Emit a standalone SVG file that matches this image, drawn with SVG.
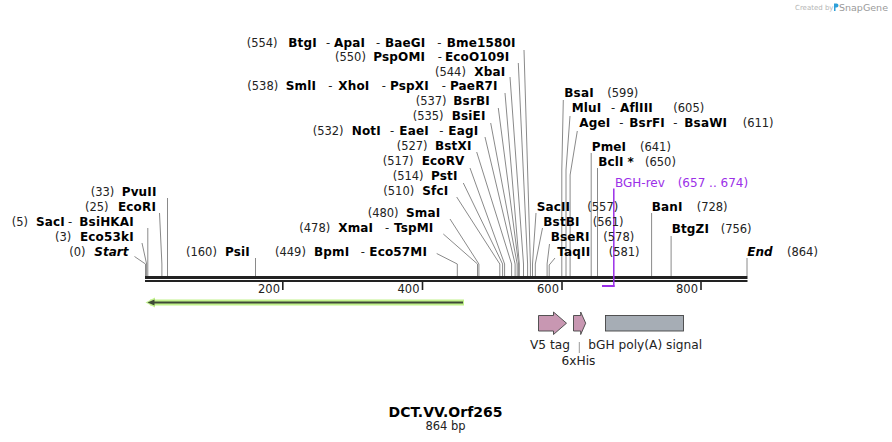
<svg xmlns="http://www.w3.org/2000/svg" width="892" height="442" viewBox="0 0 892 442">
<style>
text{font-family:"DejaVu Sans","Verdana",sans-serif;font-size:11.5px;fill:#111}
.b{font-weight:bold;fill:#000;font-size:12px;letter-spacing:0.15px}
.i{font-weight:bold;font-style:italic;fill:#000;font-size:12px}
.p{font-weight:normal;fill:#222;font-size:11.5px;letter-spacing:0}
.pr{fill:#9b30e8;font-size:12px}
.l{stroke:#8a8a8a;stroke-width:1;fill:none}
.tk{font-size:11.5px;fill:#222;text-anchor:end}
.ft{font-size:12.2px;fill:#222}
</style>
<rect width="892" height="442" fill="#fff"/>

<g id="logo">
<text x="795" y="9.5" style="font-size:7px;fill:#b5b5b5">Created by</text>
<path d="M834,3.5 h2.5 q2,0 2,2 q0,2 -2,2 h-1 v3.5 h-1.5z" fill="#2d9fd8"/>
<text x="839" y="10.5" style="font-size:9.5px;fill:#9a9a9a">SnapGene</text>
</g>

<!-- connectors -->
<g id="connectors">
<polyline class="l" points="134.5,256.5 145.5,264 145.5,276"/>
<polyline class="l" points="142,243 146.6,264 146.6,276"/>
<polyline class="l" points="147.8,228 147.8,276"/>
<polyline class="l" points="159.5,213 161.9,264 161.9,276"/>
<polyline class="l" points="167.5,198 167.5,276"/>
<polyline class="l" points="255.5,258 255.5,276"/>
<polyline class="l" points="436.7,253.5 457.3,264 457.3,276"/>
<polyline class="l" points="443.3,234 477.5,264 477.5,276"/>
<polyline class="l" points="450,219 478.9,264 478.9,276"/>
<polyline class="l" points="456.7,197 499.8,264 499.8,276"/>
<polyline class="l" points="463.3,183 502.6,264 502.6,276"/>
<polyline class="l" points="470,168 504.6,264 504.6,276"/>
<polyline class="l" points="476.7,152 511.6,264 511.6,276"/>
<polyline class="l" points="485,137 515.1,264 515.1,276"/>
<polyline class="l" points="490.7,123 517.2,264 517.2,276"/>
<polyline class="l" points="498.3,108 518.6,264 518.6,276"/>
<polyline class="l" points="505,93 519.3,264 519.3,276"/>
<polyline class="l" points="510,77 523.5,264 523.5,276"/>
<polyline class="l" points="518.3,63 527.6,264 527.6,276"/>
<polyline class="l" points="524,50 530.4,264 530.4,276"/>
<polyline class="l" points="536,213 532.5,264 532.5,276"/>
<polyline class="l" points="542.5,228 535.3,264 535.3,276"/>
<polyline class="l" points="549.5,244 547.1,264 547.1,276"/>
<polyline class="l" points="555,258 549.2,265 549.2,276"/>
<polyline class="l" points="563.3,100 561.8,170 561.8,276"/>
<polyline class="l" points="570,116 566,170 566,276"/>
<polyline class="l" points="577.3,131 570.1,175 570.1,276"/>
<polyline class="l" points="591.2,153 591.2,276"/>
<polyline class="l" points="597.5,168 597.5,276"/>
<polyline class="l" points="651.6,213 651.6,276"/>
<polyline class="l" points="671.1,236 671.1,276"/>
<polyline class="l" points="747,258 747,276"/>
</g>

<!-- backbone -->
<g id="backbone">
<rect x="145" y="276" width="602.5" height="3" fill="#222"/>
<rect x="145" y="280" width="602.5" height="2" fill="#222"/>
<g fill="#222">
<rect x="282" y="282" width="1.6" height="8"/>
<rect x="421.7" y="282" width="1.6" height="8"/>
<rect x="561.2" y="282" width="1.6" height="8"/>
<rect x="700.2" y="282" width="1.6" height="8"/>
</g>
<text class="tk" x="280" y="292.5">200</text>
<text class="tk" x="419.5" y="292.5">400</text>
<text class="tk" x="559" y="292.5">600</text>
<text class="tk" x="698" y="292.5">800</text>
</g>

<!-- primer -->
<g id="BGH-rev">
<line x1="613.8" y1="188.5" x2="613.8" y2="287" stroke="#9b30e8" stroke-width="1.5"/>
<line x1="602" y1="286" x2="614.5" y2="286" stroke="#9b30e8" stroke-width="2"/>
<text class="pr" x="615" y="187.3">BGH-rev</text>
<text class="pr" x="677.7" y="187.3">(657 .. 674)</text>
</g>

<!-- ORF arrow -->
<g id="orf">
<line x1="150" y1="302.5" x2="464" y2="302.5" stroke="#c2f28c" stroke-width="6"/>
<path d="M145.5,302.5 L155,297.5 L155,307.5 Z" fill="#c2f28c"/>
<line x1="152" y1="302.5" x2="463" y2="302.5" stroke="#3e4a36" stroke-width="2"/>
<path d="M147.5,302.5 L154.5,299.5 L154.5,305.5 Z" fill="#3e4a36"/>
</g>

<!-- features -->
<g id="v5tag">
<path d="M538.5,315.5 H553.5 V312 L566.5,323.2 L553.5,334.5 V331 H538.5 Z" fill="#c897b2" stroke="#444" stroke-width="0.9"/>
<text class="ft" x="530" y="349">V5 tag</text>
</g>
<g id="his">
<path d="M573.5,315.5 H580.7 V312 L585.7,323.2 L580.7,334.5 V331 H573.5 Z" fill="#c897b2" stroke="#444" stroke-width="0.9"/>
<line x1="579.3" y1="342" x2="579.3" y2="353" stroke="#999" stroke-width="1"/>
<text class="ft" x="561.5" y="364.5">6xHis</text>
</g>
<g id="bgh">
<rect x="605.5" y="315.5" width="78" height="15.5" fill="#a6adb5" stroke="#444" stroke-width="0.9"/>
<text class="ft" x="588.3" y="349">bGH poly(A) signal</text>
</g>

<!-- left labels -->
<g id="s33"><text y="195.7"><tspan class="p" x="90.7">(33)</tspan><tspan class="b" x="121.7">PvuII</tspan></text></g>
<g id="s25"><text y="210.5"><tspan class="p" x="85">(25)</tspan><tspan class="b" x="118">EcoRI</tspan></text></g>
<g id="s5"><text y="225.5"><tspan class="p" x="11.7">(5)</tspan><tspan class="b" x="36">SacI</tspan><tspan class="p" x="68">-</tspan><tspan class="b" x="79.3">BsiHKAI</tspan></text></g>
<g id="s3"><text y="240.5"><tspan class="p" x="55">(3)</tspan><tspan class="b" x="80">Eco53kI</tspan></text></g>
<g id="s0"><text y="255.5"><tspan class="p" x="69.3">(0)</tspan><tspan class="i" x="94.3">Start</tspan></text></g>
<g id="s160"><text y="255.5"><tspan class="p" x="186">(160)</tspan><tspan class="b" x="225">PsiI</tspan></text></g>

<!-- middle labels -->
<g id="s554"><text y="46.5"><tspan class="p" x="246.7">(554)</tspan><tspan class="b" x="288.3">BtgI</tspan><tspan class="p" x="326">-</tspan><tspan class="b" x="334">ApaI</tspan><tspan class="p" x="376">-</tspan><tspan class="b" x="385">BaeGI</tspan><tspan class="p" x="437.3">-</tspan><tspan class="b" x="446.7">Bme1580I</tspan></text></g>
<g id="s550"><text y="60.7"><tspan class="p" x="335">(550)</tspan><tspan class="b" x="373.3">PspOMI</tspan><tspan class="p" x="437.7">-</tspan><tspan class="b" x="445">EcoO109I</tspan></text></g>
<g id="s544"><text y="75.7"><tspan class="p" x="435">(544)</tspan><tspan class="b" x="474.3">XbaI</tspan></text></g>
<g id="s538"><text y="90.3"><tspan class="p" x="247.3">(538)</tspan><tspan class="b" x="285.7">SmlI</tspan><tspan class="p" x="328.3">-</tspan><tspan class="b" x="338.3">XhoI</tspan><tspan class="p" x="381.7">-</tspan><tspan class="b" x="390">PspXI</tspan><tspan class="p" x="441.7">-</tspan><tspan class="b" x="450">PaeR7I</tspan></text></g>
<g id="s537"><text y="105.3"><tspan class="p" x="415.7">(537)</tspan><tspan class="b" x="453.3">BsrBI</tspan></text></g>
<g id="s535"><text y="120.3"><tspan class="p" x="412.7">(535)</tspan><tspan class="b" x="451.7">BsiEI</tspan></text></g>
<g id="s532"><text y="135.3"><tspan class="p" x="312.7">(532)</tspan><tspan class="b" x="351.7">NotI</tspan><tspan class="p" x="390">-</tspan><tspan class="b" x="399.3">EaeI</tspan><tspan class="p" x="439.3">-</tspan><tspan class="b" x="448.3">EagI</tspan></text></g>
<g id="s527"><text y="150.3"><tspan class="p" x="396.7">(527)</tspan><tspan class="b" x="435">BstXI</tspan></text></g>
<g id="s517"><text y="165.3"><tspan class="p" x="382.7">(517)</tspan><tspan class="b" x="421.7">EcoRV</tspan></text></g>
<g id="s514"><text y="180.3"><tspan class="p" x="392.7">(514)</tspan><tspan class="b" x="431">PstI</tspan></text></g>
<g id="s510"><text y="195.3"><tspan class="p" x="383.3">(510)</tspan><tspan class="b" x="422.3">SfcI</tspan></text></g>
<g id="s480"><text y="217.3"><tspan class="p" x="367.7">(480)</tspan><tspan class="b" x="406">SmaI</tspan></text></g>
<g id="s478"><text y="232.3"><tspan class="p" x="299.3">(478)</tspan><tspan class="b" x="338.3">XmaI</tspan><tspan class="p" x="385">-</tspan><tspan class="b" x="394">TspMI</tspan></text></g>
<g id="s449"><text y="255.5"><tspan class="p" x="275">(449)</tspan><tspan class="b" x="314">BpmI</tspan><tspan class="p" x="360.7">-</tspan><tspan class="b" x="369.3">Eco57MI</tspan></text></g>

<!-- right labels -->
<g id="s599"><text y="97.3"><tspan class="b" x="564.3">BsaI</tspan><tspan class="p" x="607.3">(599)</tspan></text></g>
<g id="s605"><text y="112.3"><tspan class="b" x="571.7">MluI</tspan><tspan class="p" x="611">-</tspan><tspan class="b" x="620">AflIII</tspan><tspan class="p" x="673.3">(605)</tspan></text></g>
<g id="s611"><text y="127.3"><tspan class="b" x="579.3">AgeI</tspan><tspan class="p" x="619.3">-</tspan><tspan class="b" x="629.3">BsrFI</tspan><tspan class="p" x="673.3">-</tspan><tspan class="b" x="684.3">BsaWI</tspan><tspan class="p" x="742.7">(611)</tspan></text></g>
<g id="s641"><text y="150.7"><tspan class="b" x="591.7">PmeI</tspan><tspan class="p" x="640">(641)</tspan></text></g>
<g id="s650"><text y="165.7"><tspan class="b" x="598.3">BclI</tspan><tspan class="b" x="627.5">*</tspan><tspan class="p" x="645">(650)</tspan></text></g>
<g id="s557"><text y="210.7"><tspan class="b" x="536.7">SacII</tspan><tspan class="p" x="587.3">(557)</tspan></text></g>
<g id="s561"><text y="225.5"><tspan class="b" x="543.3">BstBI</tspan><tspan class="p" x="592.7">(561)</tspan></text></g>
<g id="s578"><text y="240.5"><tspan class="b" x="550.7">BseRI</tspan><tspan class="p" x="603.3">(578)</tspan></text></g>
<g id="s581"><text y="255.5"><tspan class="b" x="557.3">TaqII</tspan><tspan class="p" x="608.7">(581)</tspan></text></g>
<g id="s728"><text y="210.7"><tspan class="b" x="651.7">BanI</tspan><tspan class="p" x="696.7">(728)</tspan></text></g>
<g id="s756"><text y="233.3"><tspan class="b" x="671.7">BtgZI</tspan><tspan class="p" x="720.7">(756)</tspan></text></g>
<g id="s864"><text y="255.5"><tspan class="i" x="747.3">End</tspan><tspan class="p" x="787">(864)</tspan></text></g>

<!-- title -->
<g id="title">
<text x="445.5" y="416.5" text-anchor="middle" style="font-weight:bold;font-size:14px;fill:#000">DCT.VV.Orf265</text>
<text x="445.5" y="430" text-anchor="middle" style="font-size:11.5px;fill:#222">864 bp</text>
</g>
</svg>
